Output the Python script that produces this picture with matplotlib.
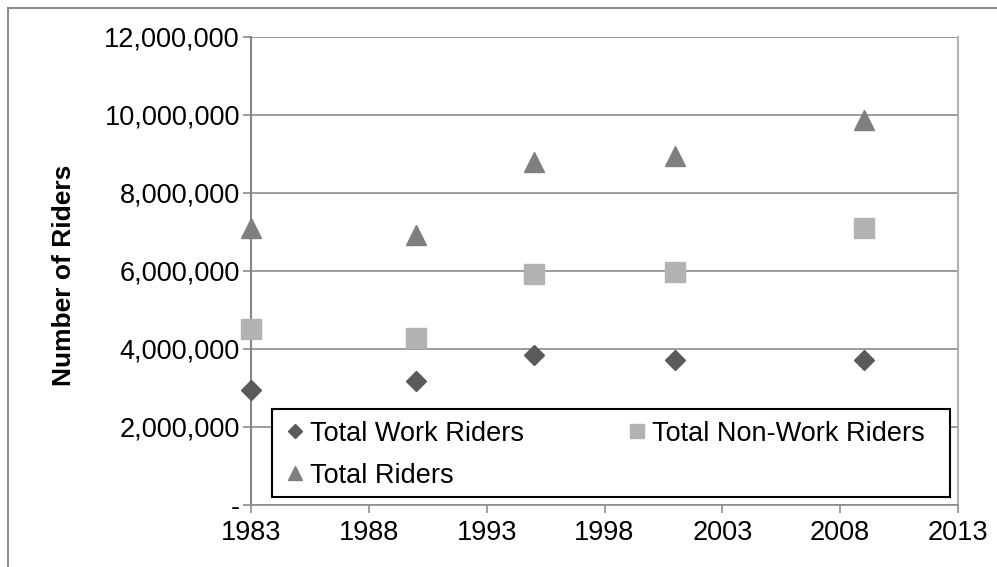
import matplotlib.pyplot as plt
from matplotlib.ticker import FuncFormatter
from matplotlib.lines import Line2D
from matplotlib.patches import Rectangle

plt.rcParams['font.family'] = ['Liberation Sans', 'DejaVu Sans']

# survey years and rider counts
years = [1983, 1990, 1995, 2001, 2009]
work_riders = [2960000, 3190000, 3840000, 3720000, 3720000]
non_work_riders = [4520000, 4280000, 5930000, 5970000, 7090000]
total_riders = [7110000, 6920000, 8790000, 8950000, 9860000]

x_ticks = [1983, 1988, 1993, 1998, 2003, 2008, 2013]
y_ticks = [0, 2000000, 4000000, 6000000, 8000000, 10000000, 12000000]

fig = plt.figure(figsize=(9.97, 5.67), dpi=100)
ax = fig.add_axes([251 / 997, 1 - 505 / 567, 707 / 997, 468 / 567])

# outer chart border (only top and left show in the crop)
fig.add_artist(Line2D([8 / 997, 8 / 997], [0, 1 - 8 / 567], transform=fig.transFigure,
                      color='#8c8c8c', lw=1.5))
fig.add_artist(Line2D([8 / 997, 1], [1 - 8 / 567, 1 - 8 / 567], transform=fig.transFigure,
                      color='#8c8c8c', lw=1.5))

work, = ax.plot(years, work_riders, linestyle='none', marker='D', markersize=10,
                color='#5a5a5a', label='Total Work Riders', zorder=3, clip_on=False)
non_work, = ax.plot(years, non_work_riders, linestyle='none', marker='s', markersize=14,
                    color='#b2b2b2', label='Total Non-Work Riders', zorder=3, clip_on=False)
total, = ax.plot(years, total_riders, linestyle='none', marker='^', markersize=14,
                 color='#7f7f7f', label='Total Riders', zorder=3, clip_on=False)

ax.set_xlim(1983, 2013)
ax.set_ylim(0, 12000000)
ax.set_xticks(x_ticks)
ax.set_yticks(y_ticks)
ax.yaxis.set_major_formatter(FuncFormatter(lambda v, p: '-' if v == 0 else f'{int(v):,}'))

ax.grid(axis='y', color='#8c8c8c', lw=1.2)
ax.set_axisbelow(True)
ax.spines['top'].set_visible(False)
ax.spines['left'].set_color('#868686')
ax.spines['left'].set_linewidth(1.5)
ax.spines['bottom'].set_color('#8c8c8c')
ax.spines['bottom'].set_linewidth(1.2)
ax.spines['right'].set_color('#b0b0b0')
ax.spines['right'].set_linewidth(1.5)
ax.tick_params(axis='both', direction='out', length=6, width=1.2, color='#8c8c8c',
               labelsize=19.5)
ax.tick_params(axis='y', pad=2)
ax.tick_params(axis='x', pad=5)

ax.set_ylabel('Number of Riders', fontsize=19, fontweight='bold')
ax.yaxis.set_label_coords(-0.2475, 0.49)

# legend box drawn on its own so the entries can sit a little left of its right edge
ax.add_patch(Rectangle((0.030, 0.017), 0.959, 0.188, transform=ax.transAxes,
                       facecolor='white', edgecolor='black', lw=1.5, zorder=4,
                       clip_on=False))

# row-wise order like the original: Work, Non-Work / Total
leg = ax.legend([work, total, non_work],
                ['Total Work Riders', 'Total Riders', 'Total Non-Work Riders'],
                loc='lower left', bbox_to_anchor=(0.030, 0.017, 0.935, 0.188),
                mode='expand', ncol=2, fontsize=19.5, frameon=False,
                handlelength=1.1, handletextpad=0.0, borderpad=0.3,
                labelspacing=0.6, numpoints=1, borderaxespad=0)
leg.set_zorder(5)
for h, ms in zip(leg.legend_handles, [7, 10, 9.5]):
    h.set_markersize(ms)

fig.savefig('out.png', dpi=100)
